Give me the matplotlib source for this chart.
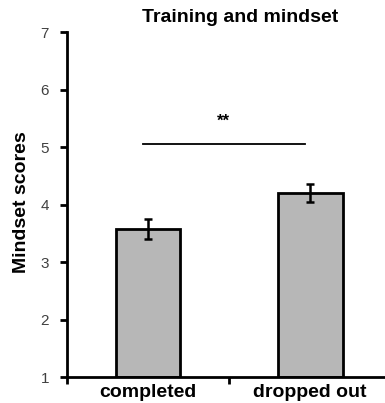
import numpy as np
import matplotlib.pyplot as plt

# data
groups = ['completed', 'dropped out']
scores = [3.57, 4.20]
errors = [0.17, 0.16]
sig_label = '**'

plt.rcParams['font.family'] = ['Liberation Sans', 'DejaVu Sans']

fig = plt.figure(figsize=(3.85, 4.03), dpi=100)
ax = fig.add_axes([0.174, 0.0645, 0.842, 0.856])

x = np.arange(len(groups))
ax.bar(x, [s - 1 for s in scores], bottom=1, width=0.4, color='#b7b7b7',
       edgecolor='black', linewidth=2, zorder=2)
ax.errorbar(x, scores, yerr=errors, fmt='none', ecolor='black',
            elinewidth=1.8, capsize=2.6, capthick=1.8, zorder=3)

# significance marker
ax.plot([-0.03, 0.97], [5.05, 5.05], color='black', lw=1.3, clip_on=False)
ax.text(0.465, 5.45, sig_label, ha='center', va='center', fontsize=12,
        fontweight='bold')

ax.set_xlim(-0.5, 1.5)
ax.set_ylim(1, 7)
ax.set_yticks(range(1, 8))
ax.set_xticks(x)
ax.set_xticklabels(groups, fontsize=14, fontweight='bold')
ax.set_xticks([-0.5, 0.5, 1.5], minor=True)
ax.tick_params(axis='x', which='major', length=0, pad=5)
ax.tick_params(axis='x', which='minor', length=5, width=2, direction='out')
ax.tick_params(axis='y', length=5, width=2, direction='out', labelsize=11,
               labelcolor='#404040', pad=8)

for side in ['top', 'right']:
    ax.spines[side].set_visible(False)
for side in ['left', 'bottom']:
    ax.spines[side].set_linewidth(2)

fig.text(0.057, 0.499, 'Mindset scores', rotation=90, ha='center',
         va='center', fontsize=14, fontweight='bold')
fig.text(0.624, 0.957, 'Training and mindset', ha='center', va='center',
         fontsize=14, fontweight='bold')

fig.savefig('out.png', dpi=100)
